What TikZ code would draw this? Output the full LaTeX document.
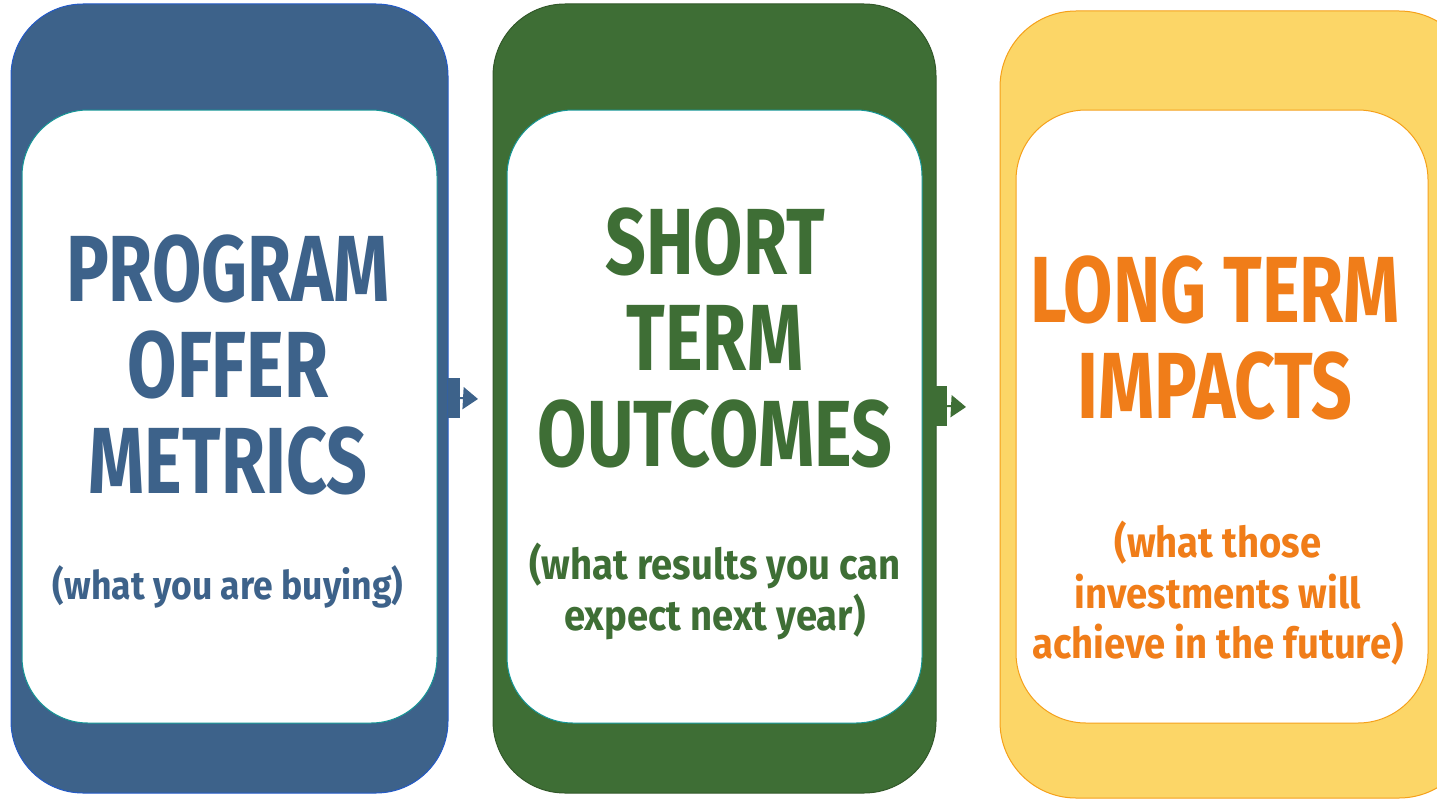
\documentclass[tikz,border=0pt]{standalone}
\usepackage{fontspec}
\newfontfamily\osw[FakeStretch=0.76]{Fira Sans}
\newfontfamily\oswsmall[FakeStretch=0.9]{Fira Sans}
\usetikzlibrary{arrows.meta}
\definecolor{cblue}{RGB}{61,98,138}
\definecolor{cblueline}{RGB}{35,90,200}
\definecolor{cgreen}{RGB}{62,110,53}
\definecolor{cyellow}{RGB}{252,214,103}
\definecolor{cyelline}{RGB}{245,160,25}
\definecolor{corange}{RGB}{240,125,25}
\definecolor{cteal}{RGB}{20,150,150}
\tikzset{
  outerbox/.style={rounded corners=72pt, line width=1pt},
  innerbox/.style={rounded corners=66pt, fill=white, line width=1pt},
  bigtext/.style={font=\osw\bfseries\fontsize{94}{96}\selectfont, align=center, inner sep=0pt},
  smalltext/.style={font=\oswsmall\bfseries\fontsize{42.5}{50.5}\selectfont, align=center, inner sep=0pt},
  tab/.style={minimum width=12pt, minimum height=40pt, inner sep=0pt},
  conn/.style={line width=2pt, -{Triangle[length=15pt,width=22pt]}}
}
\begin{document}
\begin{tikzpicture}[x=1pt,y=-1pt]
\useasboundingbox (0,0) rectangle (1437,800);
% blue column
\draw[outerbox, fill=cblue, draw=cblueline] (11,4) rectangle (448,793);
\draw[innerbox, draw=cteal] (22,110) rectangle (437,723);
% green column
\draw[outerbox, fill=cgreen, draw=cgreen!80!black] (493,4) rectangle (936,793);
\draw[innerbox, draw=cteal] (507,110) rectangle (922,723);
% yellow column
\draw[outerbox, rounded corners=76pt, fill=cyellow, draw=cyelline] (1000,11) rectangle (1475,798);
\draw[innerbox, rounded corners=70pt, draw=cyelline] (1016,110) rectangle (1428,723);
% connectors
\node[tab, fill=cblue] (t1) at (454,398) {};
\coordinate (e1) at (478,399);
\draw[conn, draw=cblue, fill=cblue] (t1.east) -- (e1);
\node[tab, fill=cgreen] (t2) at (941,406) {};
\coordinate (e2) at (966,407);
\draw[conn, draw=cgreen, fill=cgreen] (t2.east) -- (e2);
% texts
\node[bigtext, text=cblue, anchor=north] (p1) at (228,235) {PROGRAM\\OFFER\\METRICS};
\node[smalltext, text=cblue, anchor=north, font=\oswsmall\bfseries\fontsize{39.5}{50}\selectfont] (s1) at (228,565) {(what you are buying)};
\node[bigtext, text=cgreen, anchor=north] (p2) at (715,208) {SHORT\\TERM\\OUTCOMES};
\node[smalltext, text=cgreen, anchor=north] (s2) at (715,543) {(what results you can\\expect next year)};
\node[bigtext, text=corange, anchor=north] (p3) at (1215,256) {LONG TERM\\IMPACTS};
\node[smalltext, text=corange, anchor=north] (s3) at (1218,521) {(what those\\investments will\\achieve in the future)};
\end{tikzpicture}
\end{document}
